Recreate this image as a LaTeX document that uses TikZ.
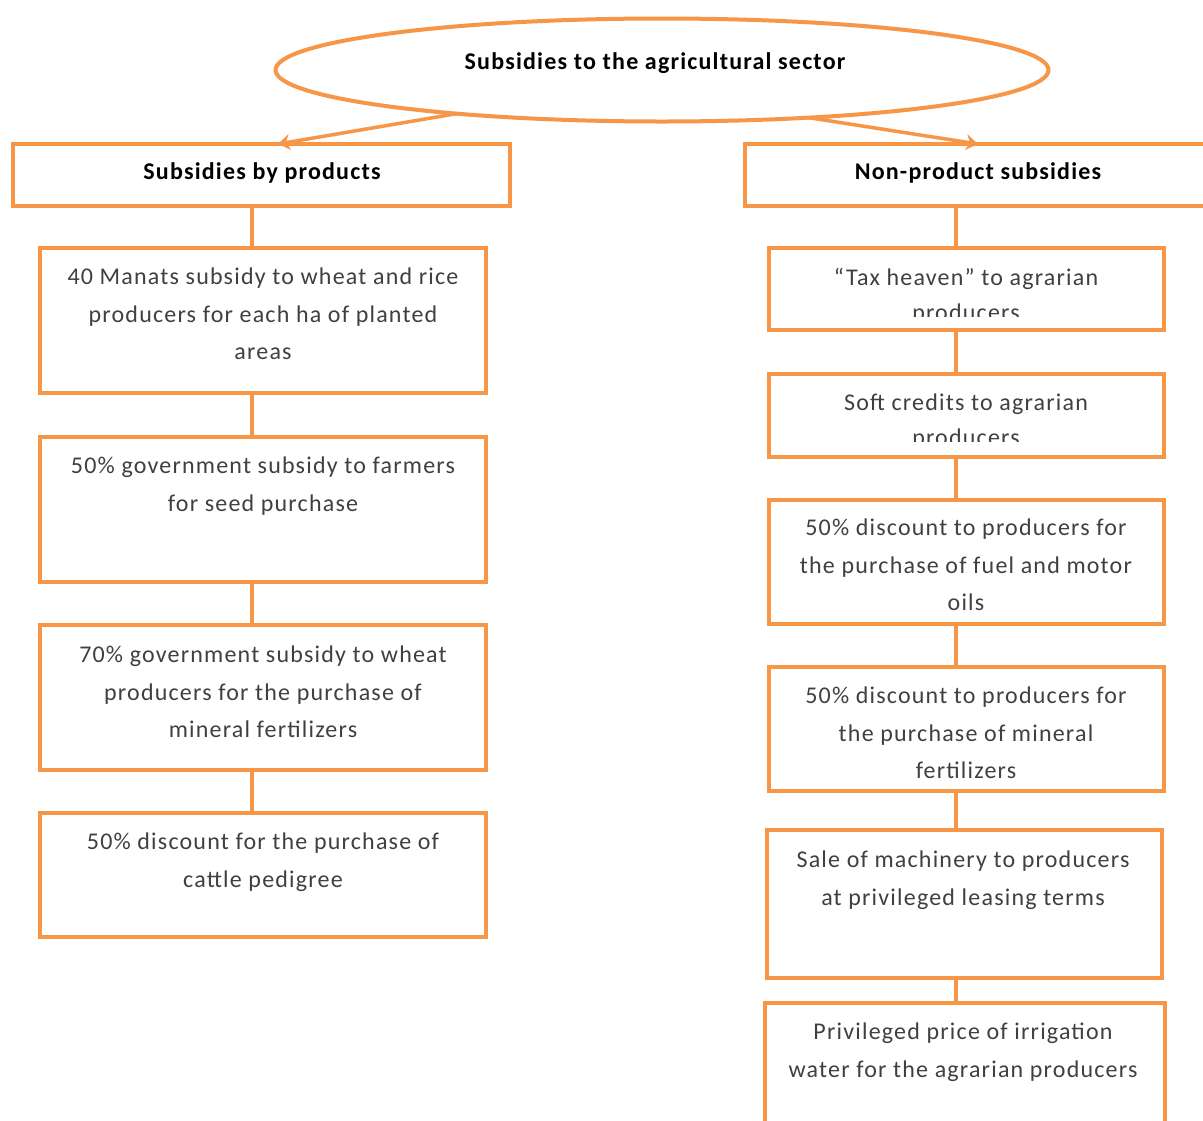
\documentclass[tikz,border=0pt]{standalone}
\usepackage{fontspec}
\setmainfont{Carlito}
\usetikzlibrary{shapes.geometric,arrows.meta,calc}
\definecolor{org}{RGB}{247,150,70}
\definecolor{txt}{RGB}{64,64,64}
\begin{document}
\begin{tikzpicture}[x=1pt,y=-1pt,
  box/.style={draw=org,line width=4pt,rectangle,anchor=north west,inner sep=0pt,outer sep=0pt},
  body/.style={font=\fontsize{24}{37.5}\selectfont\addfontfeature{LetterSpace=5},text=txt,align=center,anchor=north,inner sep=0pt},
  tight/.style={body,font=\fontsize{24}{35}\selectfont\addfontfeature{LetterSpace=5}},
  head/.style={font=\fontsize{24}{28}\selectfont\bfseries\addfontfeature{LetterSpace=5},text=black,inner sep=0pt},
  conn/.style={draw=org,line width=4pt},
  arr/.style={draw=org,line width=3.5pt,-{Stealth[length=12pt,width=16pt]}}]
\clip (0,0) rectangle (1203,1120);
\fill[white] (0,0) rectangle (1203,1120);
% top ellipse
\node[ellipse,draw=org,line width=4pt,minimum width=773pt,minimum height=103pt,inner sep=0pt,outer sep=0pt] (ell) at (662,70) {};
\node[head] (title) at (655,63) {Subsidies to the agricultural sector};
% headers
\node[box,minimum width=497pt,minimum height=62pt] (lh) at (13,144) {};
\node[head] (lht) at (262,173) {Subsidies by products};
\node[box,minimum width=466pt,minimum height=62pt] (rh) at (745,144) {};
\node[head] (rht) at (978,173) {Non-product subsidies};
\coordinate (la) at (278,0);
\coordinate (ra) at (978,0);
\draw[arr] (ell.192) -- (lh.north -| la);
\draw[arr] (ell.342) -- (rh.north -| ra);
% left column
\node[box,minimum width=446pt,minimum height=145pt] (l1) at (40,248) {};
\node[box,minimum width=446pt,minimum height=145pt] (l2) at (40,437) {};
\node[box,minimum width=446pt,minimum height=145pt] (l3) at (40,625) {};
\node[box,minimum width=446pt,minimum height=124pt] (l4) at (40,813) {};
\node[body] (l1t) at (263,268) {40 Manats subsidy to wheat and rice\\producers for each ha of planted\\areas};
\node[body] (l2t) at (263,457) {50\% government subsidy to farmers\\for seed purchase};
\node[body] (l3t) at (263,646) {70\% government subsidy to wheat\\producers for the purchase of\\mineral fertilizers};
\node[body] (l4t) at (263,833) {50\% discount for the purchase of\\cattle pedigree};
\coordinate (lc) at (252,0);
\draw[conn] (lh.south -| lc) -- (l1.north -| lc);
\draw[conn] (l1.south -| lc) -- (l2.north -| lc);
\draw[conn] (l2.south -| lc) -- (l3.north -| lc);
\draw[conn] (l3.south -| lc) -- (l4.north -| lc);
% right column
\node[box,minimum width=395pt,minimum height=82pt] (r1) at (769,248) {};
\node[box,minimum width=395pt,minimum height=83pt] (r2) at (769,374) {};
\node[box,minimum width=395pt,minimum height=124pt] (r3) at (769,500) {};
\node[box,minimum width=395pt,minimum height=124pt] (r4) at (769,667) {};
\node[box,minimum width=395pt,minimum height=148pt] (r5) at (767,830) {};
\node[box,minimum width=400pt,minimum height=140pt] (r6) at (765,1003) {};
\begin{scope}
\clip (771,250) rectangle (1162,316);
\node[tight] (r1t) at (966,268) {“Tax heaven” to agrarian\\producers};
\end{scope}
\begin{scope}
\clip (771,376) rectangle (1162,441);
\node[tight] (r2t) at (966,394) {Soft credits to agrarian\\producers};
\end{scope}
\node[body] (r3t) at (966,519) {50\% discount to producers for\\the purchase of fuel and motor\\oils};
\node[body] (r4t) at (966,687) {50\% discount to producers for\\the purchase of mineral\\fertilizers};
\node[body] (r5t) at (963,851) {Sale of machinery to producers\\at privileged leasing terms};
\node[body] (r6t) at (963,1023) {Privileged price of irrigation\\water for the agrarian producers};
\coordinate (rc) at (956,0);
\draw[conn] (rh.south -| rc) -- (r1.north -| rc);
\draw[conn] (r1.south -| rc) -- (r2.north -| rc);
\draw[conn] (r2.south -| rc) -- (r3.north -| rc);
\draw[conn] (r3.south -| rc) -- (r4.north -| rc);
\draw[conn] (r4.south -| rc) -- (r5.north -| rc);
\draw[conn] (r5.south -| rc) -- (r6.north -| rc);
\end{tikzpicture}
\end{document}
